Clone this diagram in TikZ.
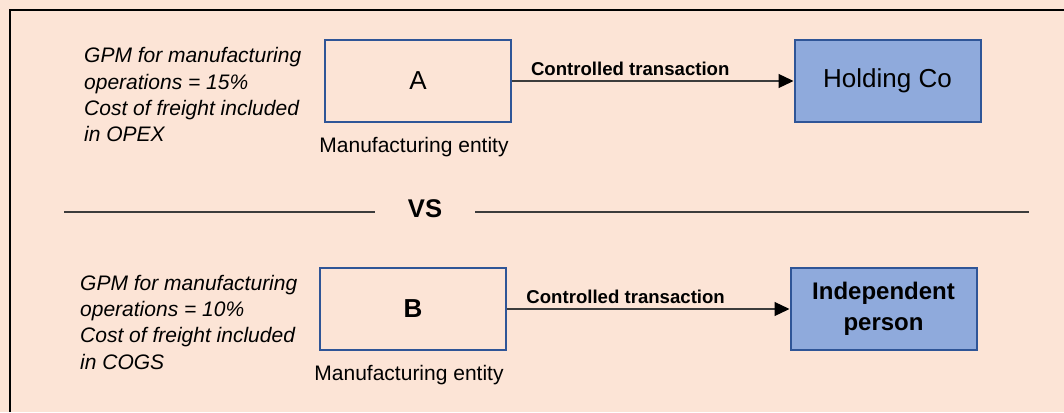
\documentclass[tikz,border=0pt]{standalone}
\usepackage{fontspec}
\setmainfont{Liberation Sans}
\usetikzlibrary{arrows.meta,positioning}
\definecolor{peach}{RGB}{252,228,214}
\definecolor{boxblue}{RGB}{143,170,220}
\definecolor{edgeblue}{RGB}{47,85,151}
\definecolor{rulegray}{RGB}{60,60,60}
\tikzset{
  %Define standard arrow tip
  >={Triangle[length=15pt,width=14pt,color=black]},
  %Define style for entity boxes
  entity/.style={
    rectangle,
    draw=edgeblue, line width=2pt,
    minimum width=186pt,
    minimum height=82pt,
    text centered,
    font=\fontsize{26}{30}\selectfont},
  party/.style={entity, fill=boxblue},
  % Define style for the margin notes
  note/.style={
    align=left,
    inner sep=0pt,
    font=\fontsize{21}{26.3}\selectfont\itshape},
  caption/.style={inner sep=0pt, font=\fontsize{21}{25}\selectfont},
  % Define arrow style
  pil/.style={
    ->,
    line width=1.2pt,
    draw=rulegray},
  deal/.style={anchor=base, inner sep=0pt, yshift=6pt,
    font=\fontsize{18.6}{22}\selectfont\bfseries},
  rule/.style={line width=1.3pt, draw=rulegray}
}

\begin{document}
\begin{tikzpicture}[x=1pt,y=-1pt]
  \fill[peach] (0,0) rectangle (1064,412);
  \useasboundingbox (0,0) rectangle (1064,412);
  \draw[line width=2pt] (10,412) -- (10,10) -- (1064,10);

  % related party case
  \node[note, anchor=north west] (noteA) at (84,47.5)
    {GPM for manufacturing\\operations = 15\%\\Cost of freight included\\in OPEX};
  \node[entity] (a) at (418,81) {A};
  \node[caption, below=14pt of a, xshift=-4pt] (capA) {Manufacturing entity};
  \node[party] (hold) at (887.5,81) {Holding Co};
  \draw[pil] (a) -- node[deal, pos=0.42] {Controlled transaction} (hold);

  % separator
  \node[inner sep=0pt, font=\fontsize{25.6}{30}\selectfont\bfseries] (vs) at (425,209) {VS};
  \coordinate (ruleL) at (64,212);
  \coordinate (ruleR) at (1029,212);
  \draw[rule] (ruleL) -- ([xshift=-33pt]ruleL -| vs.west);
  \draw[rule] ([xshift=33pt]ruleR -| vs.east) -- (ruleR);

  % independent case
  \node[note, anchor=north west] (noteB) at (80,274.7)
    {GPM for manufacturing\\operations = 10\%\\Cost of freight included\\in COGS};
  \node[entity, font=\fontsize{26}{30}\selectfont\bfseries] (b) at (413,309) {B};
  \node[caption, below=14pt of b, xshift=-4pt] (capB) {Manufacturing entity};
  \node[party, align=center, font=\fontsize{24}{30.7}\selectfont\bfseries] (indep) at (883.5,309)
    {Independent\\person};
  \draw[pil] (b) -- node[deal, pos=0.42] {Controlled transaction} (indep);
\end{tikzpicture}
\end{document}
